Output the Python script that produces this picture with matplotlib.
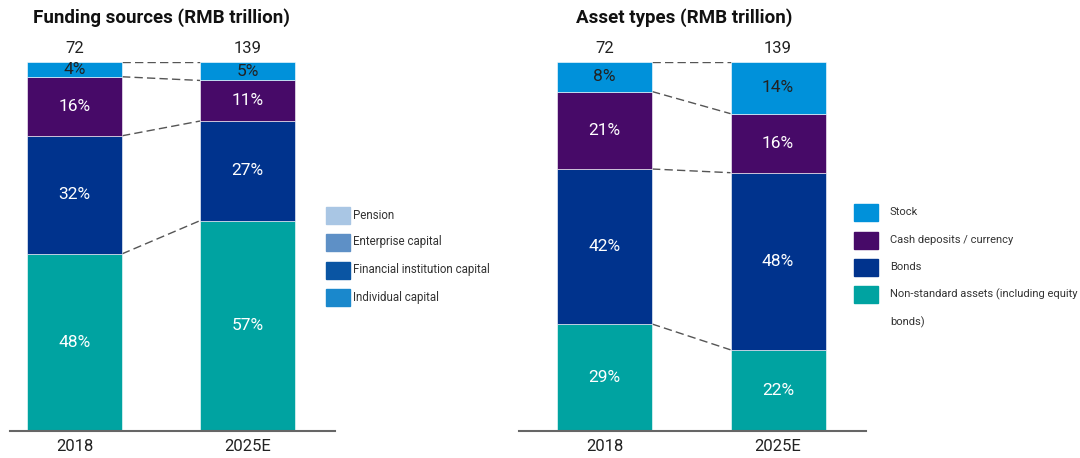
import matplotlib.pyplot as plt
from matplotlib.patches import Rectangle

plt.rcParams['font.family'] = ['Roboto', 'DejaVu Sans']

years = ['2018', '2025E']
totals = [72, 139]

# stacked shares, bottom to top
funding_shares = {
    'teal': [48, 57],
    'dark': [32, 27],
    'purple': [16, 11],
    'light': [4, 5],
}
asset_shares = {
    'teal': [29, 22],
    'dark': [42, 48],
    'purple': [21, 16],
    'light': [8, 14],
}

funding_legend = ['Pension', 'Enterprise capital', 'Financial institution capital', 'Individual capital']
funding_legend_colors = ['#a9c6e4', '#5e90c6', '#0a55a3', '#1a88cc']
asset_legend = ['Stock', 'Cash deposits / currency', 'Bonds', 'Non-standard assets (including equity\n\nbonds)']

seg_colors = {'teal': '#00a3a1', 'dark': '#00338d', 'purple': '#470a68', 'light': '#0091da'}
text_colors = {'teal': 'white', 'dark': 'white', 'purple': 'white', 'light': '#222222'}
asset_legend_colors = [seg_colors['light'], seg_colors['purple'], seg_colors['dark'], seg_colors['teal']]

W, H = 1080, 458
fig = plt.figure(figsize=(W / 100, H / 100), dpi=100)


def px_axes(x0, x1, ytop, ybot):
    return fig.add_axes([x0 / W, 1 - ybot / H, (x1 - x0) / W, (ybot - ytop) / H])


def draw_stack(ax, shares, xlim, width):
    ax.set_xlim(*xlim)
    ax.set_ylim(0, 100)
    x = [0, 1]
    bottoms = [0, 0]
    tops = []
    for key, vals in shares.items():
        ax.bar(x, vals, width=width, bottom=bottoms, color=seg_colors[key],
               edgecolor='white', linewidth=0.4, zorder=2)
        for i in range(2):
            ax.text(x[i], bottoms[i] + vals[i] / 2, f'{vals[i]}%', ha='center', va='center',
                    color=text_colors[key], fontsize=12.5, zorder=3)
        bottoms = [bottoms[i] + vals[i] for i in range(2)]
        tops.append(list(bottoms))
    # dashed connectors between segment boundaries
    for t in tops:
        ax.plot([width / 2, 1 - width / 2], t, color='#555555', lw=1.0,
                dashes=(6, 3), zorder=1)
    for i in range(2):
        ax.text(x[i], 101.5, str(totals[i]), ha='center', va='bottom', fontsize=12,
                color='#222222', clip_on=False)
    ax.set_xticks(x)
    ax.set_xticklabels(years, fontsize=12, color='#222222')
    ax.tick_params(axis='x', length=0, pad=6)
    ax.set_yticks([])
    for s in ['top', 'left', 'right']:
        ax.spines[s].set_visible(False)
    ax.spines['bottom'].set_color('#666666')
    ax.spines['bottom'].set_linewidth(1.5)


ax1 = px_axes(10, 335, 62, 431)
draw_stack(ax1, funding_shares, ((10 - 74.5) / 173, (335 - 74.5) / 173), 95 / 173)

ax2 = px_axes(519, 866, 62, 431)
draw_stack(ax2, asset_shares, ((519 - 604.5) / 173.5, (866 - 604.5) / 173.5), 95 / 173.5)

fig.text(161 / W, 1 - 18 / H, 'Funding sources (RMB trillion)', ha='center', va='center',
         fontsize=13.5, fontweight='bold', color='#111111')
fig.text(684 / W, 1 - 18 / H, 'Asset types (RMB trillion)', ha='center', va='center',
         fontsize=13.5, fontweight='bold', color='#111111')


def draw_legend(x0, text_x, ycenters, labels, colors, size):
    for yc, lab, col in zip(ycenters, labels, colors):
        fig.patches.append(Rectangle((x0 / W, 1 - (yc + 8.5) / H), 24 / W, 17 / H,
                                     transform=fig.transFigure, color=col))
        lines = lab.split('\n\n')
        for k, line in enumerate(lines):
            fig.text(text_x / W, 1 - (yc + 28 * k) / H, line, va='center',
                     fontsize=size, color='#333333')


draw_legend(326, 353, [215, 242, 270, 297], funding_legend, funding_legend_colors, 8.3)
draw_legend(854, 890, [212, 240, 267, 294], asset_legend, asset_legend_colors, 8.0)

fig.savefig('out.png', dpi=100)
